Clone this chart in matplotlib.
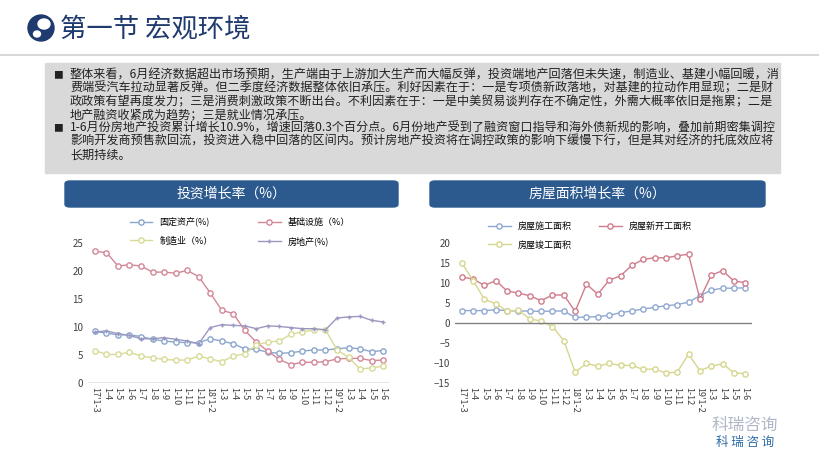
import matplotlib
matplotlib.use("Agg")
import matplotlib.pyplot as plt
from matplotlib.patches import Rectangle, FancyBboxPatch, Circle, Ellipse
from matplotlib.lines import Line2D

plt.rcParams['font.family'] = ['Noto Sans CJK SC', 'DejaVu Sans']

categories = ["17'1-3", "1-4", "1-5", "1-6", "1-7", "1-8", "1-9", "1-10", "1-11", "1-12",
              "18'1-2", "1-3", "1-4", "1-5", "1-6", "1-7", "1-8", "1-9", "1-10", "1-11", "1-12",
              "19'1-2", "1-3", "1-4", "1-5", "1-6"]

fixed_asset = [9.2, 8.9, 8.6, 8.6, 8.3, 7.8, 7.5, 7.3, 7.2, 7.2,
               7.9, 7.5, 7.0, 6.1, 6.0, 5.5, 5.3, 5.4, 5.7, 5.9, 5.9,
               6.1, 6.3, 6.1, 5.6, 5.8]
infrastructure = [23.5, 23.3, 20.9, 21.1, 20.9, 19.8, 19.8, 19.6, 20.1, 19.0,
                  16.1, 13.0, 12.4, 9.4, 7.3, 5.7, 4.2, 3.3, 3.7, 3.7, 3.8,
                  4.3, 4.4, 4.4, 4.0, 4.1]
manufacturing = [5.8, 5.1, 5.1, 5.5, 4.8, 4.5, 4.2, 4.1, 4.1, 4.8,
                 4.3, 3.8, 4.8, 5.2, 6.8, 7.3, 7.5, 8.7, 9.1, 9.5, 9.5,
                 5.9, 4.6, 2.5, 2.7, 3.0]
real_estate = [9.1, 9.3, 8.8, 8.5, 7.9, 7.9, 8.1, 7.8, 7.5, 7.0,
               9.9, 10.4, 10.3, 10.2, 9.7, 10.2, 10.1, 9.9, 9.7, 9.7, 9.5,
               11.6, 11.8, 11.9, 11.2, 10.9]

under_construction = [3.1, 3.1, 3.1, 3.3, 3.1, 3.0, 3.0, 2.9, 3.0, 3.0,
                      1.4, 1.5, 1.6, 1.9, 2.6, 3.0, 3.5, 3.9, 4.3, 4.6, 5.2,
                      6.8, 8.2, 8.7, 8.7, 8.8]
new_starts = [11.5, 11.0, 9.4, 10.6, 8.0, 7.5, 6.8, 5.6, 7.0, 7.0,
              2.9, 9.7, 7.2, 10.7, 11.8, 14.4, 15.9, 16.3, 16.3, 16.8, 17.2,
              6.0, 11.9, 13.1, 10.5, 10.1]
completed = [15.0, 10.6, 5.9, 4.8, 3.0, 3.2, 1.0, 0.5, -0.9, -4.4,
             -12.3, -10.1, -10.8, -10.1, -10.6, -10.6, -11.6, -11.5, -12.5, -12.3, -7.8,
             -11.9, -10.8, -10.2, -12.4, -12.7]

W, H = 820, 462
fig = plt.figure(figsize=(W/100, H/100), dpi=100)
fig.patch.set_facecolor('white')

def fx(x): return x / W
def fy(y): return 1 - y / H

# header icon (globe)
fig.patches.append(Ellipse((fx(41), fy(28)), 26/W, 26/H, transform=fig.transFigure,
                           facecolor='#1f3a6e', edgecolor='#1f3a6e'))
fig.patches.append(Ellipse((fx(44), fy(24)), 12/W, 10/H, transform=fig.transFigure, color='white'))
fig.patches.append(Ellipse((fx(37), fy(34)), 7/W, 6/H, transform=fig.transFigure, color='white'))
fig.text(fx(60), fy(29), "第一节 宏观环境", fontsize=19, color='#1f3a6e', va='center', ha='left')
fig.add_artist(Line2D([0, 1], [fy(55), fy(55)], color='#d8d8d8', lw=1.5, transform=fig.transFigure))

# text box
fig.patches.append(Rectangle((fx(45), fy(173)), (780-45)/W, (173-63)/H, transform=fig.transFigure,
                             color='#d9d9d9', zorder=0))
lines1 = ["整体来看，6月经济数据超出市场预期，生产端由于上游加大生产而大幅反弹，投资端地产回落但未失速，制造业、基建小幅回暖，消",
          "费端受汽车拉动显著反弹。但二季度经济数据整体依旧承压。利好因素在于：一是专项债新政落地，对基建的拉动作用显现；二是财",
          "政政策有望再度发力；三是消费刺激政策不断出台。不利因素在于：一是中美贸易谈判存在不确定性，外需大概率依旧是拖累；二是",
          "地产融资收紧成为趋势；三是就业情况承压。"]
lines2 = ["1-6月份房地产投资累计增长10.9%，增速回落0.3个百分点。6月份地产受到了融资窗口指导和海外债新规的影响，叠加前期密集调控",
          "影响开发商预售款回流，投资进入稳中回落的区间内。预计房地产投资将在调控政策的影响下缓慢下行，但是其对经济的托底效应将",
          "长期持续。"]
y = 75
for i, s in enumerate(lines1):
    if i == 0:
        fig.text(fx(53), fy(y), "■", fontsize=7, va='center', color='#222222')
    fig.text(fx(70), fy(y), s, fontsize=8.7, va='center', color='#222222')
    y += 13.3
for i, s in enumerate(lines2):
    if i == 0:
        fig.text(fx(53), fy(y), "■", fontsize=7, va='center', color='#222222')
    fig.text(fx(70), fy(y), s, fontsize=8.7, va='center', color='#222222')
    y += 13.3

# title bars
for x0, x1, t in [(65, 398, "投资增长率（%）"), (430, 765, "房屋面积增长率（%）")]:
    fig.patches.append(FancyBboxPatch((fx(x0), fy(207)), (x1-x0)/W, 26/H, transform=fig.transFigure,
                                      boxstyle="round,pad=0,rounding_size=0.006", color='#2c5a8f'))
    fig.text(fx((x0+x1)/2), fy(194), t, fontsize=10, color='white', ha='center', va='center')

x = list(range(len(categories)))

def style_ax(ax, ylim, yticks):
    ax.set_xlim(-0.6, len(categories) - 0.4)
    ax.set_ylim(*ylim)
    ax.set_yticks(yticks)
    ax.set_xticks(x)
    ax.set_xticklabels(categories, rotation=270, fontsize=6.5, color='#404040')
    ax.tick_params(axis='y', labelsize=7, colors='#404040', length=0)
    ax.tick_params(axis='x', length=0, pad=3)
    for s in ax.spines.values():
        s.set_visible(False)
    ax.axhline(0, color='#808080', lw=1)
    ax.set_facecolor('none')

mk = dict(marker='o', markersize=3.8, markerfacecolor='white', lw=1.0)

# left chart
axL = fig.add_axes([fx(88), fy(383), (390-88)/W, (383-243)/H])
c1, c2, c3, c4 = '#8aa6cc', '#d48797', '#d7db96', '#9a98c0'
l1, = axL.plot(x, fixed_asset, color=c1, markeredgecolor=c1, label='固定资产(%)', **mk)
l2, = axL.plot(x, infrastructure, color=c2, markeredgecolor=c2, label='基础设施（%）', **mk)
l3, = axL.plot(x, manufacturing, color=c3, markeredgecolor=c3, label='制造业（%）', **mk)
l4, = axL.plot(x, real_estate, color=c4, marker='+', markersize=3.5, lw=1.0, label='房地产(%)')
style_ax(axL, (0, 25), [0, 5, 10, 15, 20, 25])
hL = [l1, l3, l2, l4]
fig.legend(hL, [h.get_label() for h in hL], ncol=2, loc='center', bbox_to_anchor=(fx(240), fy(232)),
           frameon=False, fontsize=6.5, columnspacing=5, handlelength=2.5, labelspacing=1.0)

# right chart
axR = fig.add_axes([fx(455), fy(383), (752-455)/W, (383-243)/H])
d1, d2, d3 = '#8fa8d0', '#d07c8c', '#d6d68e'
r1, = axR.plot(x, under_construction, color=d1, markeredgecolor=d1, label='房屋施工面积', **mk)
r2, = axR.plot(x, new_starts, color=d2, markeredgecolor=d2, label='房屋新开工面积', **mk)
r3, = axR.plot(x, completed, color=d3, markeredgecolor=d3, label='房屋竣工面积', **mk)
style_ax(axR, (-15, 20), [-15, -10, -5, 0, 5, 10, 15, 20])
hR = [r1, r3, r2]
fig.legend(hR, [h.get_label() for h in hR], ncol=2, loc='center', bbox_to_anchor=(fx(590), fy(236)),
           frameon=False, fontsize=6.5, columnspacing=3, handlelength=2.5, labelspacing=1.0)

# watermark
fig.text(fx(745), fy(425), "科瑞咨询", fontsize=12, color='#b0b8c8', ha='center', va='center')
fig.text(fx(745), fy(442), "科 瑞 咨 询", fontsize=9, color='#2c6aa8', ha='center', va='center', style='italic')

fig.savefig("out.png", dpi=100)
